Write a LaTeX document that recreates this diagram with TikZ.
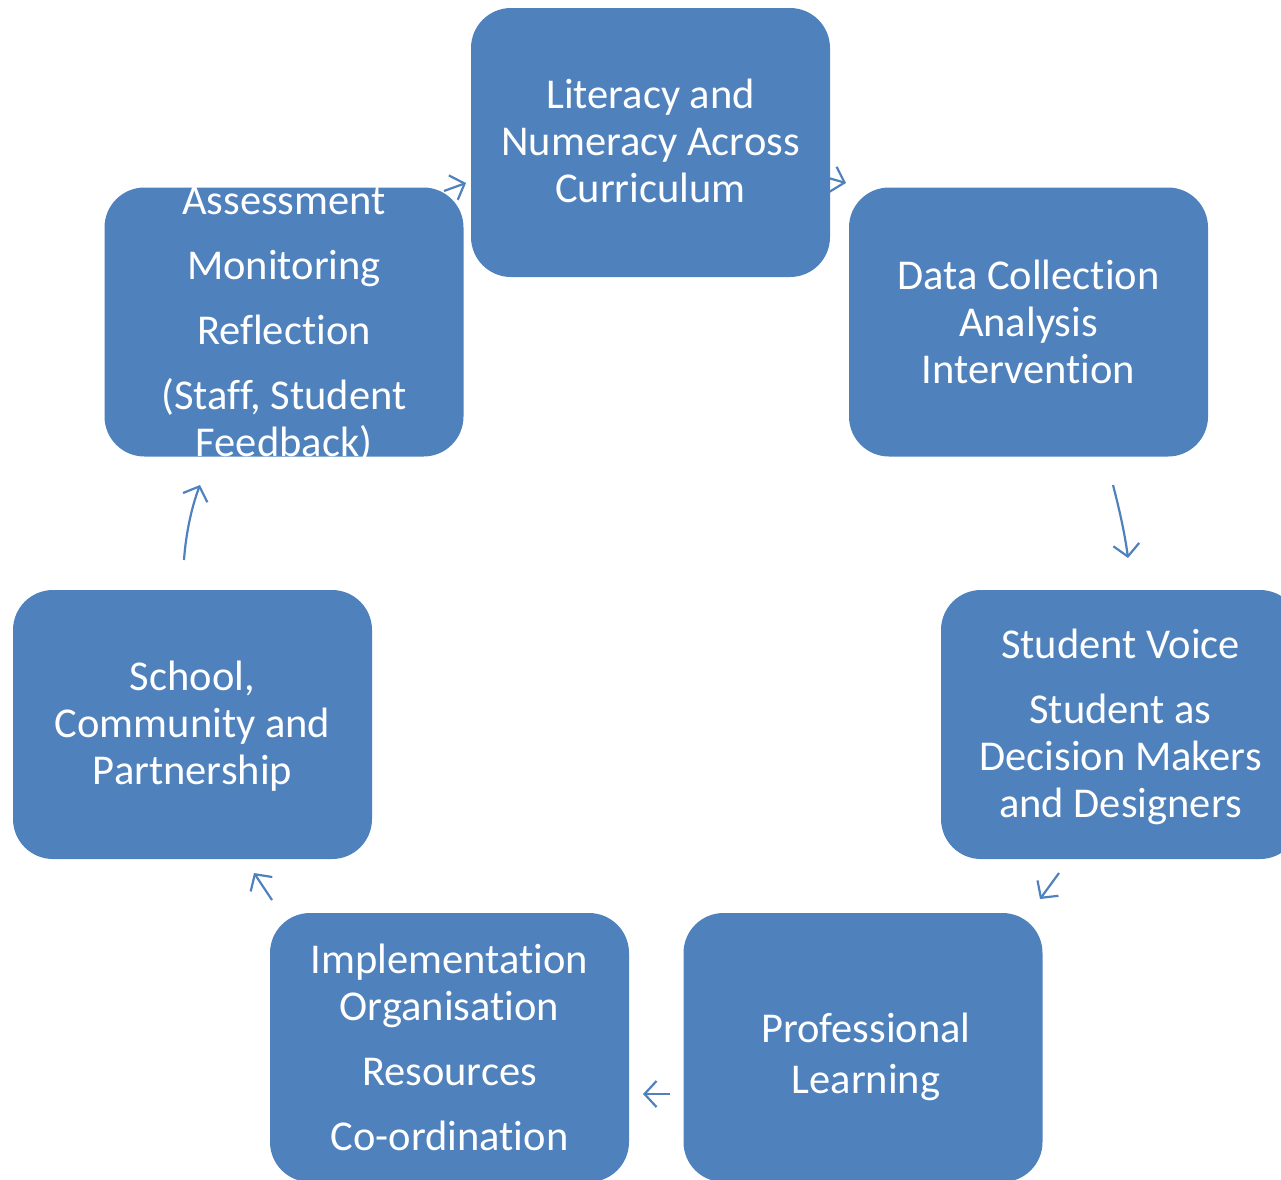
\documentclass[tikz,border=0pt]{standalone}
\usepackage{fontspec}
\setmainfont{Carlito}[Ligatures=CommonOff]
\usetikzlibrary{arrows.meta}
\definecolor{boxblue}{HTML}{4F81BD}
\tikzset{
  box/.style={draw=none, fill=boxblue, rounded corners=40pt, minimum width=359pt, minimum height=269pt, inner sep=0pt},
  boxtext/.style={text=white, align=center, inner sep=0pt, font=\fontsize{42.5}{47}\selectfont},
  flow/.style={draw=boxblue, line width=2.2pt, -{Straight Barb[length=12pt,width=26pt,line width=2.2pt]}}
}
\begin{document}
\begin{tikzpicture}[x=1pt,y=-1pt]
\useasboundingbox (0,0) rectangle (1281,1179);
\clip (0,0) rectangle (1281,1179);
% arrow end points
\coordinate (a1s) at (444,191); \coordinate (a1e) at (466,183);
\coordinate (a2s) at (818,175); \coordinate (a2e) at (846,183);
\coordinate (a3s) at (1113,485); \coordinate (a3c) at (1120,512); \coordinate (a3d) at (1125,535); \coordinate (a3e) at (1128,558);
\coordinate (a4s) at (1059,873); \coordinate (a4e) at (1040,899);
\coordinate (a5s) at (670,1094); \coordinate (a5e) at (643,1094);
\coordinate (a6s) at (272,900); \coordinate (a6e) at (254,873);
\coordinate (a7s) at (184,560); \coordinate (a7c) at (186,532); \coordinate (a7d) at (192,506); \coordinate (a7e) at (200,485);
\draw[flow] (a1s) -- (a1e);
\draw[flow] (a2s) -- (a2e);
\draw[flow] (a3s) .. controls (a3c) and (a3d) .. (a3e);
\draw[flow] (a4s) -- (a4e);
\draw[flow] (a5s) -- (a5e);
\draw[flow] (a6s) -- (a6e);
\draw[flow] (a7s) .. controls (a7c) and (a7d) .. (a7e);
% boxes
\node[box] (b1) at (650.5,142.5) {};
\node[box] (b2) at (1028.5,322) {};
\node[box] (b3) at (1120.5,724.5) {};
\node[box] (b4) at (863,1047.5) {};
\node[box] (b5) at (449.5,1047.5) {};
\node[box] (b6) at (192.5,724.5) {};
\node[box] (b7) at (284,322) {};
% texts
\node[boxtext] (t1) at ([yshift=2pt]b1) {Literacy and\\Numeracy Across\\Curriculum};
\node[boxtext] (t2) at (b2) {Data Collection\\Analysis\\Intervention};
\node[boxtext] (t3) at ([yshift=-2pt]b3) {Student Voice\\[18pt]Student as\\Decision Makers\\and Designers};
\node[boxtext] (t4) at (866,1057) {Professional\\[4pt]Learning};
\node[boxtext] (t5) at (b5) {Implementation\\Organisation\\[18pt]Resources\\[18pt]Co-ordination};
\node[boxtext] (t6) at ([yshift=-2pt]b6) {School,\\Community and\\Partnership};
\node[boxtext] (t7) at ([yshift=-3pt]b7) {Assessment\\[18pt]Monitoring\\[18pt]Reflection\\[18pt](Staff, Student\\Feedback)};
\end{tikzpicture}
\end{document}
